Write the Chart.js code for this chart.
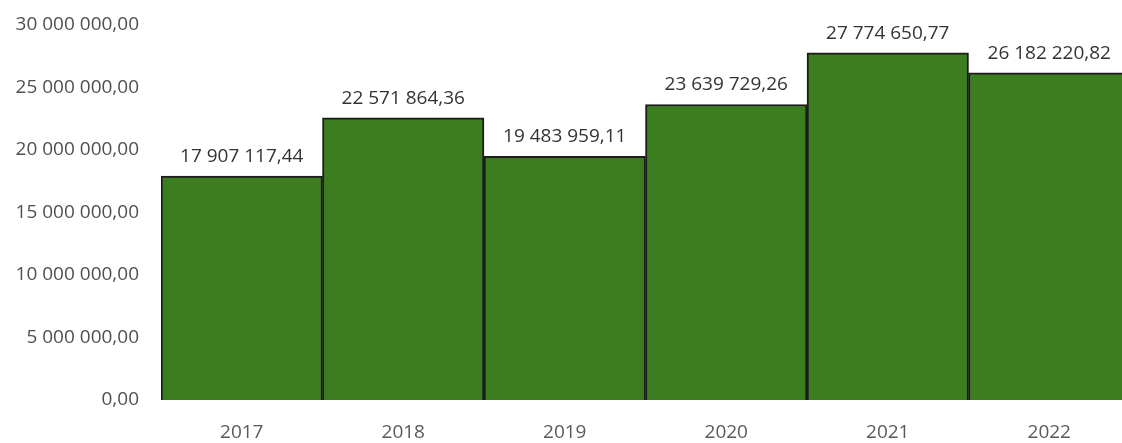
<!DOCTYPE html>
<html>
<head>
<meta charset="utf-8">
<script src="https://cdn.jsdelivr.net/npm/chart.js@4.4.1/dist/chart.umd.min.js"></script>
<style>
  html, body { margin: 0; padding: 0; background: #fff; overflow: hidden; }
  #wrap { width: 1130px; height: 443px; position: relative; }
</style>
</head>
<body>
<div id="wrap"><canvas id="grafico"></canvas></div>
<script>
const anos = ["2017", "2018", "2019", "2020", "2021", "2022"];
const valores = [17907117.44, 22571864.36, 19483959.11, 23639729.26, 27774650.77, 26182220.82];
const yMax = 30000000;
const yPaso = 5000000;

const fuente = "'Open Sans', sans-serif";

// 30000000 -> "30 000 000,00"
const formato = (v) => {
  let partes = Math.abs(v).toFixed(2).split(".");
  let entero = partes[0].replace(/\B(?=(\d{3})+(?!\d))/g, " ");
  return entero + "," + partes[1];
};

const etiquetas = {
  id: "etiquetas",
  afterDatasetsDraw(chart) {
    const ctx = chart.ctx;
    const meta = chart.getDatasetMeta(0);
    ctx.save();
    ctx.font = "19px " + fuente;
    ctx.fillStyle = "#333";
    ctx.textAlign = "center";
    ctx.textBaseline = "bottom";
    meta.data.forEach((bar, i) => {
      ctx.fillText(formato(valores[i]), bar.x, bar.y - 10);
    });
    ctx.restore();
  },
};

const ctx = document.getElementById("grafico");
new Chart(ctx, {
  type: "bar",
  data: {
    labels: anos,
    datasets: [
      {
        data: valores,
        backgroundColor: "#3b7d1f",
        borderColor: "#1c1c1c",
        borderWidth: 2,
        barPercentage: 1,
        categoryPercentage: 1,
      },
    ],
  },
  options: {
    responsive: true,
    maintainAspectRatio: false,
    animation: false,
    layout: { padding: { top: 2 } },
    plugins: { legend: { display: false }, tooltip: { enabled: false } },
    scales: {
      x: {
        grid: { display: false, drawTicks: false },
        border: { display: false },
        afterFit: (scale) => { scale.height = 43; },
        ticks: { color: "#5a5a5a", font: { family: fuente, size: 19 }, padding: 21 },
      },
      y: {
        min: 0,
        max: yMax,
        grid: { display: false, drawTicks: false },
        border: { display: false },
        afterFit: (scale) => { scale.width = 161; scale.paddingTop = 25; },
        ticks: {
          stepSize: yPaso,
          color: "#505050",
          padding: 22,
          font: { family: fuente, size: 19 },
          callback: (v) => formato(v),
        },
      },
    },
  },
  plugins: [etiquetas],
});
</script>
</body>
</html>
